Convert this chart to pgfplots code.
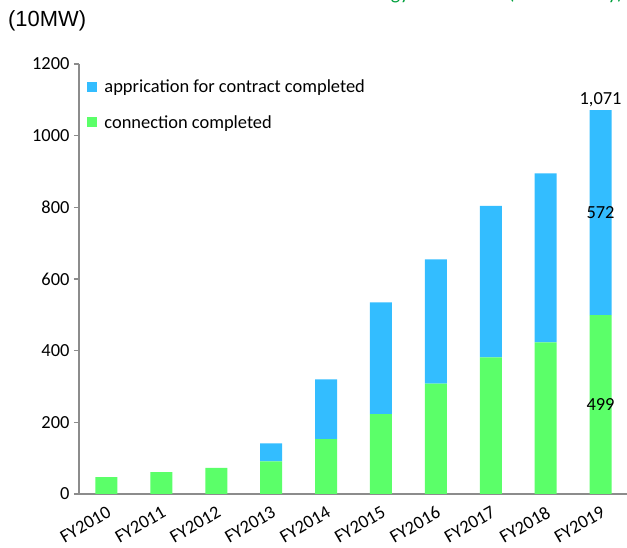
\documentclass[border=0pt]{standalone}
\usepackage{pgfplots}
\pgfplotsset{compat=1.18}
\usepackage{fontspec}
\setmainfont{Carlito}
\newfontfamily\arialfont{Liberation Sans}

\definecolor{contractblue}{HTML}{33BDFF}
\definecolor{connectgreen}{HTML}{5BFF69}
\definecolor{axisgray}{HTML}{8C8C8C}
\definecolor{titlegreen}{HTML}{00A03C}

% FY, connection completed, application for contract completed (10MW)
\pgfplotstableread{
x  conn  contract
0  47    0
1  61    0
2  73    0
3  91    50
4  153   167
5  223   312
6  308   347
7  381   423
8  423   472
9  499   572
}\capacity

\newcommand\lblfont{\fontsize{18.5}{22}\selectfont}

\begin{document}
\begin{tikzpicture}
\begin{axis}[
  at={(79bp,54bp)}, anchor=south west,
  scale only axis, width=549bp, height=430bp,
  xmin=-0.5, xmax=9.5, ymin=0, ymax=1200,
  ybar stacked, bar width=22bp,
  axis x line*=bottom, axis y line*=left,
  axis line style={axisgray, line width=1.3bp},
  every tick/.style={axisgray, line width=1.1bp},
  tick align=outside,
  major tick length=5bp, minor tick length=5bp,
  ytick={0,200,...,1200},
  xtick={0,...,9},
  xticklabels={FY2010,FY2011,FY2012,FY2013,FY2014,FY2015,FY2016,FY2017,FY2018,FY2019},
  x tick style={draw=none},
  minor xtick={-0.5,0.5,...,9.5},
  minor x tick style={axisgray, line width=1.1bp},
  /pgf/number format/assume math mode=true,
  /pgf/number format/1000 sep={},
  tick label style={font=\lblfont, black},
  yticklabel style={xshift=-1bp},
  xticklabel style={rotate=30, anchor=north east, xshift=0bp, yshift=-2bp},
  legend style={draw=none, fill=none, at={(0.015,0.968)}, anchor=north west,
    font=\lblfont, row sep=17bp, inner sep=0pt,
    /tikz/every odd column/.append style={column sep=5bp}},
  legend cell align=left,
  reverse legend,
  legend image code/.code={\fill[#1, draw=none] (0bp,-5bp) rectangle (10bp,5bp);},
  clip=false,
]
\addplot[fill=connectgreen, draw=none] table[x=x, y=conn] {\capacity};
\addplot[fill=contractblue, draw=none] table[x=x, y=contract] {\capacity};
\legend{connection completed, apprication for contract completed}

% anchor points for the FY2019 value labels, set on top of the bars below
\coordinate (totalpos) at (axis cs:9,1071);
\coordinate (contractpos) at (axis cs:9,785);
\coordinate (connpos) at (axis cs:9,249.5);
\end{axis}

\node[anchor=south, font=\lblfont, inner sep=3bp] at (totalpos) {1,071};
\node[font=\lblfont] at (contractpos) {572};
\node[font=\lblfont] at (connpos) {499};

\node[anchor=west, font=\arialfont\fontsize{22}{25}\selectfont, inner sep=0pt] at (8bp,527bp) {(10MW)};
\node[anchor=base west, font=\fontsize{20}{24}\selectfont, text=titlegreen, inner sep=0pt] at (260bp,548.6bp) {Renewable energy connection (cumulatively)};

\pgfresetboundingbox
\useasboundingbox (0bp,0bp) rectangle (627bp,548bp);
\end{tikzpicture}
\end{document}
